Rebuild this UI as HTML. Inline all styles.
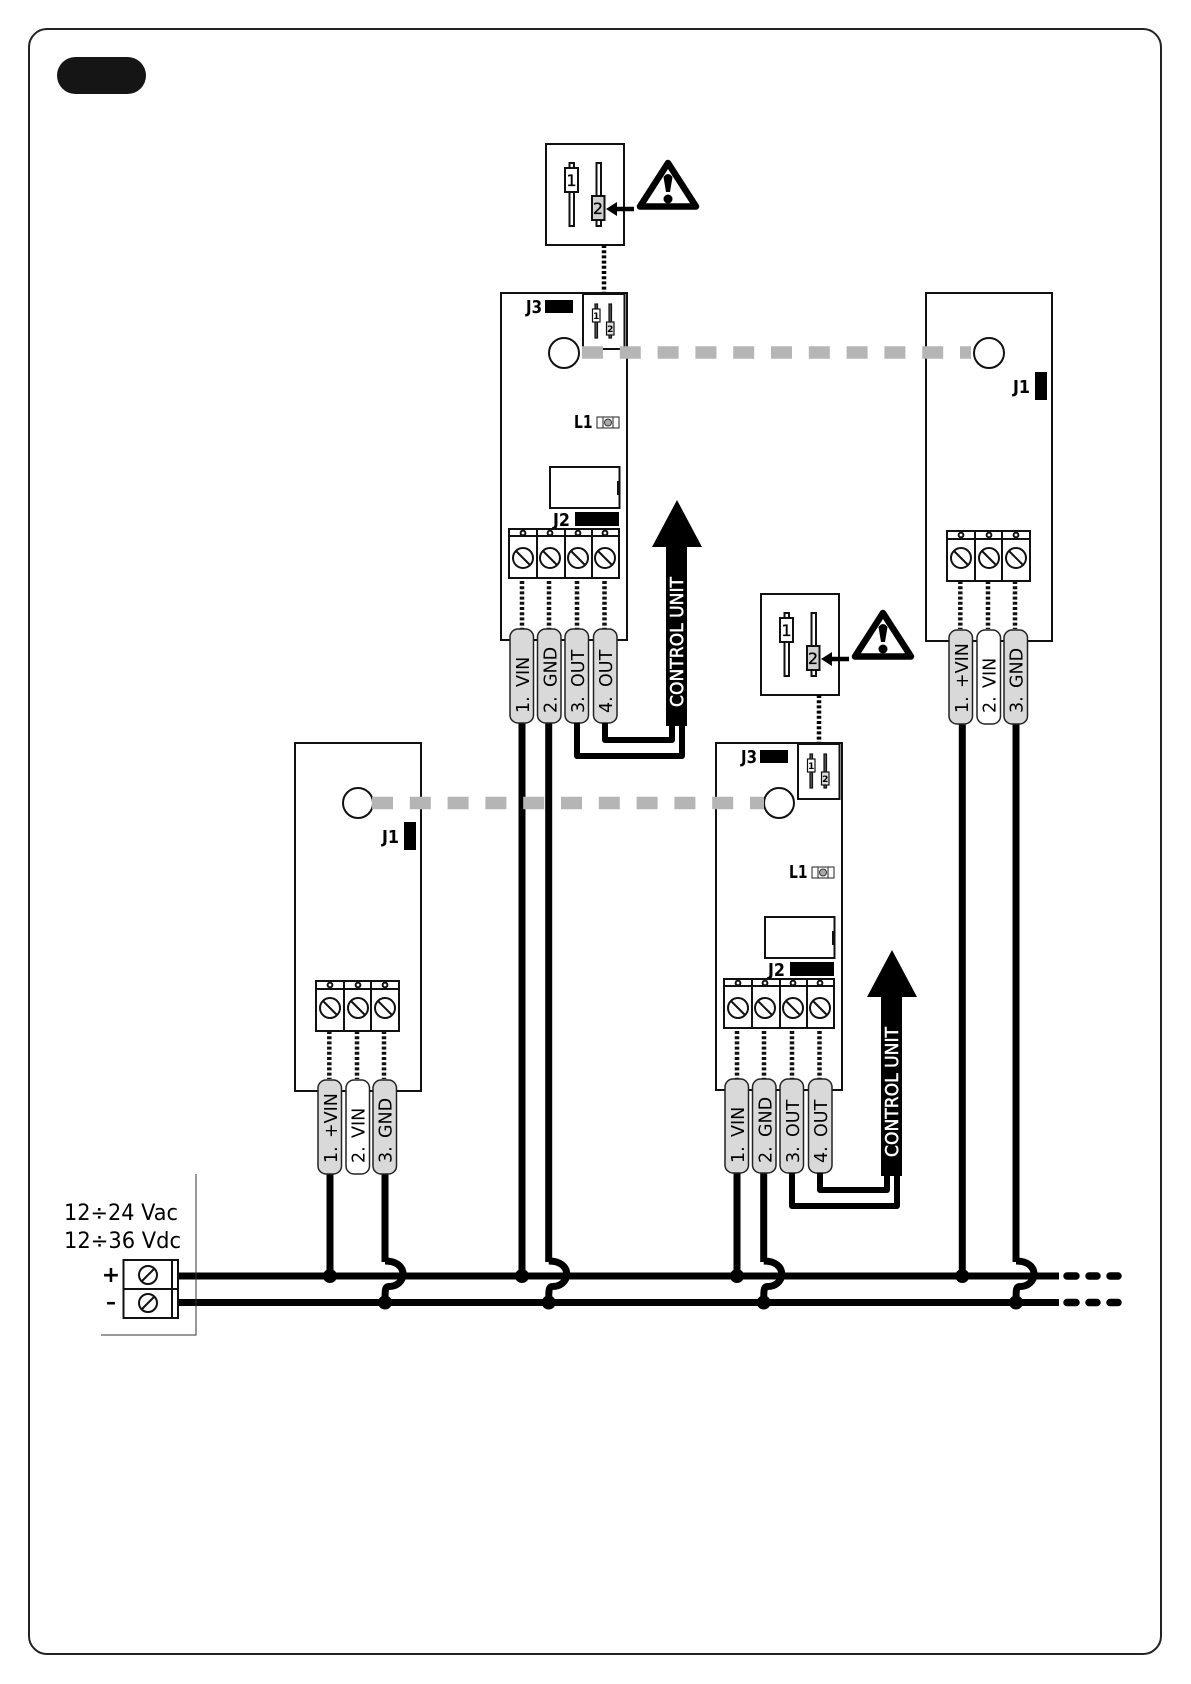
<!DOCTYPE html>
<html><head><meta charset="utf-8"><style>
html,body{margin:0;padding:0;background:#fff}
svg{display:block}
text{font-family:"DejaVu Sans","Liberation Sans",sans-serif;fill:#000}
.p{font-size:17.5px}
.b{font-weight:bold;font-size:18px}
.cu{font-size:18px;fill:#fff;stroke:#fff;stroke-width:.5px}
.n{font-size:16px;stroke:#000;stroke-width:.3px}
.m{font-size:9px;font-weight:bold}
</style></head><body>
<svg width="1191" height="1684" viewBox="0 0 1191 1684" xmlns="http://www.w3.org/2000/svg">
<defs>
<g id="t4" fill="none" stroke="#111" stroke-width="2">
<rect x="509" y="529" width="110" height="49" fill="#fff"/>
<path d="M509 536H619M537 529V578M565 529V578M592 529V578"/>
<circle cx="523" cy="533" r="2.4"/><circle cx="550" cy="533" r="2.4"/><circle cx="578" cy="533" r="2.4"/><circle cx="605" cy="533" r="2.4"/>
<circle cx="523" cy="558" r="10"/><circle cx="550" cy="558" r="10"/><circle cx="578" cy="558" r="10"/><circle cx="605" cy="558" r="10"/>
<path d="M516 551L530 565M543 551L557 565M571 551L585 565M598 551L612 565"/>
<g stroke-width="4.5" stroke-dasharray="3 2.2"><path d="M522 581V629M549 581V629M577 581V629M604.5 581V629"/></g>
</g>
<g id="t3" fill="none" stroke="#111" stroke-width="2">
<rect x="947" y="531" width="83" height="50" fill="#fff"/>
<path d="M947 539H1030M975 531V581M1002 531V581"/>
<circle cx="961" cy="535" r="2.4"/><circle cx="989" cy="535" r="2.4"/><circle cx="1016" cy="535" r="2.4"/>
<circle cx="961" cy="558" r="10"/><circle cx="989" cy="558" r="10"/><circle cx="1016" cy="558" r="10"/>
<path d="M954 551L968 565M982 551L996 565M1009 551L1023 565"/>
<g stroke-width="4.5" stroke-dasharray="3 2.2"><path d="M960.3 581V629M988 581V629M1015 581V629"/></g>
</g>
<path id="jump" d="M0 1261C12 1261 18 1267 18 1274C18 1282 11 1286.5 4 1286.5C0 1286.5 0 1290 0 1302" fill="none" stroke="#000" stroke-width="7"/>
<g id="pillg"><rect width="23.5" height="94" rx="8" fill="#d9d9d9" stroke="#222" stroke-width="1.5"/></g>
<g id="pillw"><rect width="23.5" height="94" rx="8" fill="#fff" stroke="#222" stroke-width="1.5"/></g>
<g id="warn">
<path d="M668 163L640 206.5H696Z" fill="#fff" stroke="#000" stroke-width="6.5" stroke-linejoin="round"/>
<path d="M663.5 177Q668 171 672.5 177L670 192H666Z" fill="#000"/><circle cx="668" cy="199" r="4.5" fill="#000"/>
<path d="M634 209H612" stroke="#000" stroke-width="4.5"/><path d="M606 209L617 202V216Z" fill="#000"/>
</g>
<g id="arrow"><path d="M677 500L702 547H687V726H666V547H652Z" fill="#000"/>
<path d="M605 723V740H672V726M577 723V756H682V726" fill="none" stroke="#000" stroke-width="6" stroke-linejoin="round"/></g>
</defs>

<rect x="29" y="29" width="1132" height="1625" rx="18" fill="#fff" stroke="#222" stroke-width="2"/>
<rect x="57" y="57" width="89" height="37" rx="18.5" fill="#151515"/>

<!-- bus -->
<g stroke="#000" stroke-width="7" fill="none">
<path d="M178 1276H1059M178 1302.5H1059"/>
<path d="M330 1174V1276M522 723V1276M737 1173V1276M962.3 724V1276"/>
<path d="M385 1174V1262M548.7 723V1262M763.7 1173V1262M1016 724V1262"/>
<g stroke-linecap="round" stroke-width="7.5"><path d="M1067 1276H1076M1089 1276H1097M1110 1276H1118M1067 1302.5H1076M1089 1302.5H1097M1110 1302.5H1118"/></g>
</g>
<use href="#jump" x="385"/><use href="#jump" x="548.7"/><use href="#jump" x="763.7"/><use href="#jump" x="1016"/>
<g fill="#000"><circle cx="330" cy="1276" r="7"/><circle cx="522" cy="1276" r="7"/><circle cx="737" cy="1276" r="7"/><circle cx="962.3" cy="1276" r="7"/>
<circle cx="385" cy="1302.5" r="7"/><circle cx="548.7" cy="1302.5" r="7"/><circle cx="763.7" cy="1302.5" r="7"/><circle cx="1016" cy="1302.5" r="7"/></g>

<!-- supply block -->
<path d="M196 1174V1335H101" fill="none" stroke="#333" stroke-width="1"/>
<g fill="#fff" stroke="#111" stroke-width="2"><rect x="123.5" y="1260" width="54.5" height="58"/><path d="M123.5 1289H178M172 1260V1318" fill="none"/>
<circle cx="148" cy="1275" r="9"/><circle cx="148" cy="1303" r="9"/><path d="M142 1281L154 1269M142 1309L154 1297" fill="none"/></g>
<text x="64" y="1220" font-size="22.5" textLength="114" lengthAdjust="spacingAndGlyphs">12÷24 Vac</text>
<text x="64" y="1248" font-size="22.5" textLength="117" lengthAdjust="spacingAndGlyphs">12÷36 Vdc</text>
<text x="111" y="1282" font-size="22" font-weight="bold" text-anchor="middle">+</text>
<text x="111" y="1309" font-size="20" font-weight="bold" text-anchor="middle">–</text>

<!-- top jumper A -->
<rect x="546" y="144" width="78" height="101" fill="#fff" stroke="#111" stroke-width="2"/>
<g stroke="#111" stroke-width="2"><rect x="569.5" y="163" width="4.5" height="63" fill="#fff"/><rect x="565" y="168" width="13" height="24" fill="#fff"/>
<rect x="596.5" y="163" width="4.5" height="63" fill="#fff"/><rect x="592" y="196" width="12.5" height="24" fill="#d0d0d0"/></g>
<text class="n" x="571.5" y="186" text-anchor="middle">1</text><text class="n" x="598" y="214" text-anchor="middle">2</text>
<path d="M604 245V293" stroke="#000" stroke-width="4.5" stroke-dasharray="3 2.2"/>
<use href="#warn"/>

<!-- top jumper D -->
<g transform="translate(215,450)">
<rect x="546" y="144" width="78" height="101" fill="#fff" stroke="#111" stroke-width="2"/>
<g stroke="#111" stroke-width="2"><rect x="569.5" y="163" width="4.5" height="63" fill="#fff"/><rect x="565" y="168" width="13" height="24" fill="#fff"/>
<rect x="596.5" y="163" width="4.5" height="63" fill="#fff"/><rect x="592" y="196" width="12.5" height="24" fill="#d0d0d0"/></g>
<text class="n" x="571.5" y="186" text-anchor="middle">1</text><text class="n" x="598" y="214" text-anchor="middle">2</text>
<path d="M604 245V293" stroke="#000" stroke-width="4.5" stroke-dasharray="3 2.2"/>
<use href="#warn"/>
</g>

<!-- board A -->
<g>
<rect x="501" y="293" width="126" height="347" fill="#fff" stroke="#111" stroke-width="2"/>
<rect x="583" y="294" width="41.5" height="55" fill="#fff" stroke="#111" stroke-width="2"/>
<circle cx="564" cy="353" r="15" fill="#fff" stroke="#111" stroke-width="2"/>
<g stroke="#111" stroke-width="1.2" fill="#555"><rect x="595" y="304" width="2.5" height="34"/><rect x="592.5" y="309" width="7.5" height="13" fill="#fff"/>
<rect x="609" y="304" width="2.5" height="34"/><rect x="606.5" y="322" width="7.5" height="13" fill="#ddd"/></g>
<text class="m" x="596.2" y="319" text-anchor="middle">1</text><text class="m" x="610.2" y="332" text-anchor="middle">2</text>
<rect x="545" y="300" width="28" height="13" fill="#000"/>
<text class="b" x="526" y="313" textLength="16" lengthAdjust="spacingAndGlyphs">J3</text>
<text class="b" x="574" y="428" textLength="18.5" lengthAdjust="spacingAndGlyphs">L1</text>
<rect x="597" y="417" width="22" height="11" fill="#fff" stroke="#222" stroke-width="1"/><path d="M603 417V428M613 417V428" stroke="#222" stroke-width="1"/><circle cx="608" cy="422.5" r="3.5" fill="#aaa" stroke="#333" stroke-width="1"/>
<rect x="550" y="467" width="69.5" height="41" fill="#fff" stroke="#111" stroke-width="2"/><rect x="617" y="481" width="2.5" height="14" fill="#111"/>
<rect x="575" y="512" width="44" height="14" fill="#000"/>
<text class="b" x="553" y="526" textLength="17" lengthAdjust="spacingAndGlyphs">J2</text>
<use href="#t4"/>
<use href="#pillg" x="510" y="629"/><use href="#pillg" x="537.5" y="629"/><use href="#pillg" x="565" y="629"/><use href="#pillg" x="593.5" y="629"/>
<text class="p" transform="translate(529,713) rotate(-90)">1.</text><text class="p" transform="translate(529,687) rotate(-90)">VIN</text>
<text class="p" transform="translate(556.5,713) rotate(-90)">2.</text><text class="p" transform="translate(556.5,687) rotate(-90)">GND</text>
<text class="p" transform="translate(584,713) rotate(-90)">3.</text><text class="p" transform="translate(584,687) rotate(-90)">OUT</text>
<text class="p" transform="translate(612,713) rotate(-90)">4.</text><text class="p" transform="translate(612,687) rotate(-90)">OUT</text>
<use href="#arrow"/>
<text class="cu" transform="translate(683,707) rotate(-90)" textLength="130" lengthAdjust="spacingAndGlyphs">CONTROL UNIT</text>
</g>

<!-- board D -->
<g transform="translate(215,450)">
<rect x="501" y="293" width="126" height="347" fill="#fff" stroke="#111" stroke-width="2"/>
<rect x="583" y="294" width="41.5" height="55" fill="#fff" stroke="#111" stroke-width="2"/>
<circle cx="564" cy="353" r="15" fill="#fff" stroke="#111" stroke-width="2"/>
<g stroke="#111" stroke-width="1.2" fill="#555"><rect x="595" y="304" width="2.5" height="34"/><rect x="592.5" y="309" width="7.5" height="13" fill="#fff"/>
<rect x="609" y="304" width="2.5" height="34"/><rect x="606.5" y="322" width="7.5" height="13" fill="#ddd"/></g>
<text class="m" x="596.2" y="319" text-anchor="middle">1</text><text class="m" x="610.2" y="332" text-anchor="middle">2</text>
<rect x="545" y="300" width="28" height="13" fill="#000"/>
<text class="b" x="526" y="313" textLength="16" lengthAdjust="spacingAndGlyphs">J3</text>
<text class="b" x="574" y="428" textLength="18.5" lengthAdjust="spacingAndGlyphs">L1</text>
<rect x="597" y="417" width="22" height="11" fill="#fff" stroke="#222" stroke-width="1"/><path d="M603 417V428M613 417V428" stroke="#222" stroke-width="1"/><circle cx="608" cy="422.5" r="3.5" fill="#aaa" stroke="#333" stroke-width="1"/>
<rect x="550" y="467" width="69.5" height="41" fill="#fff" stroke="#111" stroke-width="2"/><rect x="617" y="481" width="2.5" height="14" fill="#111"/>
<rect x="575" y="512" width="44" height="14" fill="#000"/>
<text class="b" x="553" y="526" textLength="17" lengthAdjust="spacingAndGlyphs">J2</text>
<use href="#t4"/>
<use href="#pillg" x="510" y="629"/><use href="#pillg" x="537.5" y="629"/><use href="#pillg" x="565" y="629"/><use href="#pillg" x="593.5" y="629"/>
<text class="p" transform="translate(529,713) rotate(-90)">1.</text><text class="p" transform="translate(529,687) rotate(-90)">VIN</text>
<text class="p" transform="translate(556.5,713) rotate(-90)">2.</text><text class="p" transform="translate(556.5,687) rotate(-90)">GND</text>
<text class="p" transform="translate(584,713) rotate(-90)">3.</text><text class="p" transform="translate(584,687) rotate(-90)">OUT</text>
<text class="p" transform="translate(612,713) rotate(-90)">4.</text><text class="p" transform="translate(612,687) rotate(-90)">OUT</text>
<use href="#arrow"/>
<text class="cu" transform="translate(683,707) rotate(-90)" textLength="130" lengthAdjust="spacingAndGlyphs">CONTROL UNIT</text>
</g>

<!-- board right -->
<g>
<rect x="926" y="293" width="126" height="348" fill="#fff" stroke="#111" stroke-width="2"/>
<circle cx="989" cy="353" r="15" fill="#fff" stroke="#111" stroke-width="2"/>
<rect x="1035" y="372" width="12" height="28" fill="#000"/>
<text class="b" x="1013" y="393" textLength="17" lengthAdjust="spacingAndGlyphs">J1</text>
<use href="#t3"/>
<use href="#pillg" x="949" y="630"/><use href="#pillw" x="977" y="630"/><use href="#pillg" x="1004" y="630"/>
<text class="p" transform="translate(968,713) rotate(-90)">1.</text><text class="p" transform="translate(968,688) rotate(-90)">+VIN</text>
<text class="p" transform="translate(995.6,713) rotate(-90)">2.</text><text class="p" transform="translate(995.6,688) rotate(-90)">VIN</text>
<text class="p" transform="translate(1022.7,713) rotate(-90)">3.</text><text class="p" transform="translate(1022.7,688) rotate(-90)">GND</text>
</g>

<!-- board left -->
<g transform="translate(-631,450)">
<rect x="926" y="293" width="126" height="348" fill="#fff" stroke="#111" stroke-width="2"/>
<circle cx="989" cy="353" r="15" fill="#fff" stroke="#111" stroke-width="2"/>
<rect x="1035" y="372" width="12" height="28" fill="#000"/>
<text class="b" x="1013" y="393" textLength="17" lengthAdjust="spacingAndGlyphs">J1</text>
<use href="#t3"/>
<use href="#pillg" x="949" y="630"/><use href="#pillw" x="977" y="630"/><use href="#pillg" x="1004" y="630"/>
<text class="p" transform="translate(968,713) rotate(-90)">1.</text><text class="p" transform="translate(968,688) rotate(-90)">+VIN</text>
<text class="p" transform="translate(995.6,713) rotate(-90)">2.</text><text class="p" transform="translate(995.6,688) rotate(-90)">VIN</text>
<text class="p" transform="translate(1022.7,713) rotate(-90)">3.</text><text class="p" transform="translate(1022.7,688) rotate(-90)">GND</text>
</g>

<!-- gray dashed links -->
<path d="M582 352.5H971" stroke="#b5b5b5" stroke-width="12.5" stroke-dasharray="21 16.8" fill="none"/>
<path d="M372 803H764" stroke="#b5b5b5" stroke-width="12.5" stroke-dasharray="21 16.8" fill="none"/>
</svg>
</body></html>
